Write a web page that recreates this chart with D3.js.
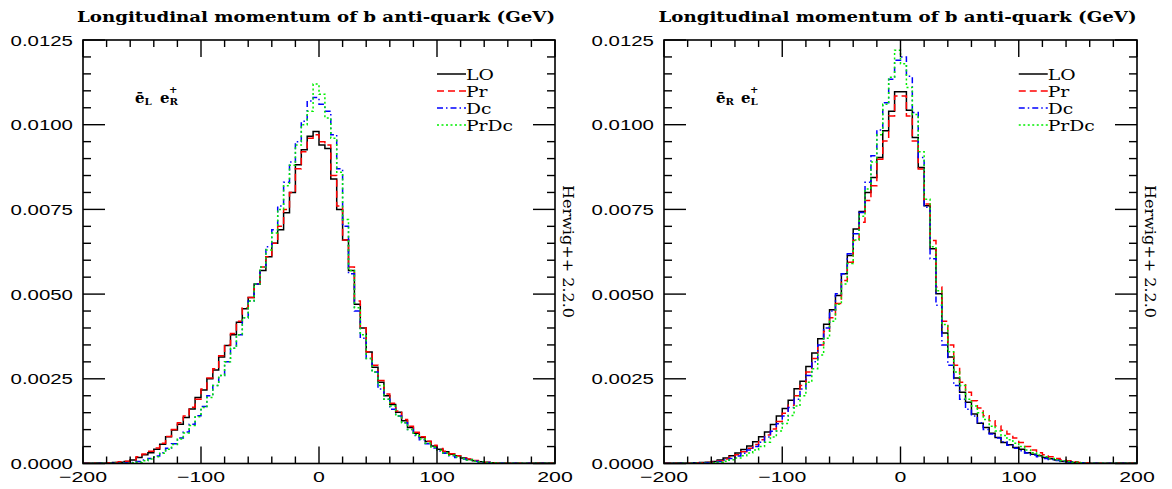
<!DOCTYPE html>
<html>
<head>
<meta charset="utf-8">
<script src="https://cdn.jsdelivr.net/npm/d3@7"></script>
<style>
  body { margin: 0; background: #fff; }
</style>
</head>
<body>
<svg id="chart" width="1172" height="489"></svg>
<script>
// histogram bins: 80 bins of 5 GeV from -200 to 200
var binStart = -200, binWidth = 5, binCount = 80;
var xTicks = [-200, -100, 0, 100, 200];
var xTickLabels = ["\u2212200", "\u2212100", "0", "100", "200"];
var yTicks = [0, 0.0025, 0.005, 0.0075, 0.01, 0.0125];
var yTickLabels = ["0.0000", "0.0025", "0.0050", "0.0075", "0.0100", "0.0125"];
var seriesNames = ["LO", "Pr", "Dc", "PrDc"];
var title = "Longitudinal momentum of b anti-quark (GeV)";
var stamp = "Herwig++ 2.2.0";

// left panel: eL- eR+
var leftLO = [
  0.000005, 0.000005, 0.00001, 0.00001, 0.00002, 0.00003, 0.00004, 0.00006,
  0.0001, 0.00018, 0.00026, 0.00032, 0.00042, 0.00057, 0.00079, 0.00099,
  0.00116, 0.00136, 0.00161, 0.00195, 0.00217, 0.0025, 0.00276, 0.00314,
  0.00348, 0.0038, 0.00417, 0.00457, 0.0049, 0.0053, 0.0057, 0.0061,
  0.0065, 0.0069, 0.0074, 0.0080, 0.00882, 0.00926, 0.00966, 0.0098,
  0.0094, 0.0093, 0.0084, 0.0075, 0.0066, 0.0057, 0.0047, 0.0040,
  0.00329, 0.00284, 0.0024, 0.0020, 0.00174, 0.00151, 0.00126, 0.00106,
  0.00089, 0.00077, 0.00065, 0.00052, 0.00042, 0.00035, 0.00027, 0.00023,
  0.00016, 0.00012, 0.00008, 0.00005, 0.00003, 0.00002, 0.00001, 0.00001,
  0.000005, 0.000005, 0.000005, 0.000005, 0.000005, 0.000005, 0.000005, 0.000005
];
var leftPr = [
  0.000005, 0.000005, 0.00001, 0.00001, 0.00002, 0.00003, 0.00005, 0.00007,
  0.0001, 0.0002, 0.00028, 0.00036, 0.00046, 0.0006, 0.0008, 0.001,
  0.0012, 0.0014, 0.00166, 0.0019, 0.0022, 0.00252, 0.0028, 0.00318,
  0.0035, 0.00384, 0.0042, 0.0046, 0.0049, 0.0053, 0.0058, 0.0061,
  0.0065, 0.0070, 0.0075, 0.0080, 0.0087, 0.0092, 0.0096, 0.0097,
  0.0095, 0.0094, 0.0085, 0.0076, 0.0066, 0.0058, 0.0048, 0.0040,
  0.0033, 0.0029, 0.00245, 0.00205, 0.00178, 0.00155, 0.0013, 0.0011,
  0.00092, 0.00079, 0.00066, 0.00054, 0.00044, 0.00036, 0.00029, 0.00023,
  0.00017, 0.00013, 0.00009, 0.00006, 0.00004, 0.00002, 0.00001, 0.00001,
  0.000005, 0.000005, 0.000005, 0.000005, 0.000005, 0.000005, 0.000005, 0.000005
];
var leftDc = [
  0.000003, 0.000003, 0.000005, 0.000005, 0.00001, 0.00001, 0.00002, 0.00002,
  0.00003, 0.00006, 0.0001, 0.00015, 0.00022, 0.00032, 0.00045, 0.00058,
  0.00075, 0.00093, 0.00116, 0.00141, 0.00168, 0.002, 0.0023, 0.0026,
  0.003, 0.0034, 0.0038, 0.0043, 0.0048, 0.0053, 0.0058, 0.0064,
  0.0069, 0.0076, 0.0083, 0.0089, 0.0095, 0.0101, 0.0107, 0.0108,
  0.0106, 0.0104, 0.0097, 0.0087, 0.0070, 0.0056, 0.0045, 0.0037,
  0.0031, 0.0027, 0.0022, 0.0019, 0.0016, 0.0014, 0.0012, 0.001,
  0.00083, 0.0007, 0.00058, 0.00046, 0.00037, 0.0003, 0.00023, 0.00018,
  0.00013, 0.0001, 0.00007, 0.00004, 0.00003, 0.00002, 0.00001, 0.00001,
  0.000005, 0.000005, 0.000005, 0.000005, 0.000005, 0.000005, 0.000005, 0.000005
];
var leftPrDc = [
  0.000003, 0.000003, 0.000005, 0.000005, 0.000005, 0.00001, 0.00001, 0.00001,
  0.00002, 0.00004, 0.00008, 0.00013, 0.0002, 0.0003, 0.00042, 0.00056,
  0.00072, 0.0009, 0.00112, 0.00138, 0.00165, 0.00195, 0.0023, 0.0026,
  0.003, 0.0034, 0.0038, 0.0043, 0.0048, 0.0053, 0.0058, 0.0063,
  0.0068, 0.0075, 0.0082, 0.0088, 0.0094, 0.0100, 0.0104, 0.0112,
  0.0109, 0.0102, 0.0096, 0.0086, 0.0072, 0.0057, 0.0046, 0.0038,
  0.0031, 0.0027, 0.0023, 0.0019, 0.0017, 0.0014, 0.0012, 0.001,
  0.00085, 0.00072, 0.0006, 0.00048, 0.00039, 0.00031, 0.00024, 0.00019,
  0.00014, 0.0001, 0.00007, 0.00005, 0.00003, 0.00002, 0.00001, 0.00001,
  0.000005, 0.000005, 0.000005, 0.000005, 0.000005, 0.000005, 0.000005, 0.000005
];

// right panel: eR- eL+
var rightLO = [
  0.000005, 0.00001, 0.00001, 0.00001, 0.00001, 0.00002, 0.00003, 0.00004,
  0.00006, 0.0001, 0.00016, 0.00023, 0.00031, 0.00041, 0.00052, 0.00064,
  0.00079, 0.00093, 0.00115, 0.0014, 0.00162, 0.00187, 0.00221, 0.00243,
  0.00286, 0.00326, 0.00368, 0.00411, 0.00454, 0.00496, 0.0056, 0.00614,
  0.00692, 0.00744, 0.008, 0.00844, 0.00903, 0.00982, 0.0104, 0.01097,
  0.01097, 0.01043, 0.00962, 0.00874, 0.00761, 0.00634, 0.00501, 0.00385,
  0.00314, 0.00252, 0.0021, 0.00181, 0.00146, 0.00119, 0.00106, 0.00089,
  0.00077, 0.00062, 0.00055, 0.00047, 0.00042, 0.00032, 0.00027, 0.00023,
  0.00018, 0.00014, 0.0001, 0.00007, 0.00005, 0.00003, 0.00002, 0.00001,
  0.00001, 0.000005, 0.000005, 0.000005, 0.000005, 0.000005, 0.000005, 0.000005
];
var rightPr = [
  0.000005, 0.000005, 0.00001, 0.00001, 0.00001, 0.00002, 0.00002, 0.00003,
  0.00004, 0.00008, 0.00013, 0.00019, 0.00026, 0.00035, 0.00045, 0.00056,
  0.0007, 0.00084, 0.00102, 0.00124, 0.00148, 0.00172, 0.002, 0.0023,
  0.0027, 0.0031, 0.0035, 0.0039, 0.0043, 0.00472, 0.0054, 0.00594,
  0.00658, 0.00712, 0.00776, 0.0082, 0.00898, 0.00952, 0.01026, 0.01085,
  0.01085, 0.01026, 0.00952, 0.00869, 0.00766, 0.00658, 0.00521, 0.0042,
  0.0035, 0.0029, 0.0024, 0.0021, 0.00185, 0.00164, 0.00141, 0.00126,
  0.00111, 0.00098, 0.00087, 0.00075, 0.00062, 0.0005, 0.0004, 0.00032,
  0.00026, 0.0002, 0.00015, 0.00011, 0.00008, 0.00005, 0.00003, 0.00002,
  0.00001, 0.000005, 0.000005, 0.000005, 0.000005, 0.000005, 0.000005, 0.000005
];
var rightDc = [
  0.000003, 0.000005, 0.000005, 0.00001, 0.00001, 0.00001, 0.00002, 0.00002,
  0.00003, 0.00006, 0.0001, 0.00015, 0.00022, 0.0003, 0.0004, 0.0005,
  0.00063, 0.00078, 0.00095, 0.00117, 0.0014, 0.00165, 0.0019, 0.0022,
  0.0026, 0.003, 0.0035, 0.0040, 0.0045, 0.00501, 0.0056, 0.00619,
  0.00678, 0.00741, 0.0083, 0.00908, 0.00984, 0.01065, 0.01134, 0.0119,
  0.0120, 0.01143, 0.01036, 0.00903, 0.00756, 0.00604, 0.00467, 0.0035,
  0.0029, 0.0023, 0.0019, 0.0016, 0.0014, 0.0012, 0.001, 0.00087,
  0.00075, 0.00064, 0.00054, 0.00045, 0.00038, 0.00031, 0.00025, 0.0002,
  0.00015, 0.00012, 0.00009, 0.00006, 0.00004, 0.00003, 0.00002, 0.00001,
  0.000005, 0.000005, 0.000005, 0.000005, 0.000005, 0.000005, 0.000005, 0.000005
];
var rightPrDc = [
  0.000003, 0.000003, 0.000005, 0.000005, 0.00001, 0.00001, 0.00001, 0.00001,
  0.00002, 0.00004, 0.00007, 0.00011, 0.00016, 0.00023, 0.00031, 0.0004,
  0.0005, 0.00063, 0.00078, 0.00096, 0.00118, 0.00142, 0.0017, 0.002,
  0.0024, 0.0028, 0.0032, 0.0037, 0.0042, 0.0047, 0.0053, 0.0059,
  0.0066, 0.0073, 0.0081, 0.0089, 0.0097, 0.0106, 0.0114, 0.0122,
  0.0118, 0.0111, 0.0103, 0.0092, 0.0078, 0.0064, 0.0051, 0.0041,
  0.0033, 0.0027, 0.0023, 0.0019, 0.0017, 0.0015, 0.0013, 0.0011,
  0.00096, 0.00083, 0.0007, 0.0006, 0.0005, 0.0004, 0.00032, 0.00025,
  0.0002, 0.00015, 0.00011, 0.00008, 0.00006, 0.00004, 0.00002, 0.00001,
  0.00001, 0.000005, 0.000005, 0.000005, 0.000005, 0.000005, 0.000005, 0.000005
];

var styles = [
  {color: "#000000", dash: null},
  {color: "#ff0000", dash: "7,4"},
  {color: "#0000ff", dash: "6,3,1.5,3"},
  {color: "#00ee00", dash: "2,2.5"}
];

var panels = [
  {x0: 83, x1: 555, series: [leftLO, leftPr, leftDc, leftPrDc], beam: ["L", "R"], stampX: 563},
  {x0: 664, x1: 1137, series: [rightLO, rightPr, rightDc, rightPrDc], beam: ["R", "L"], stampX: 1145}
];
var yTop = 40, yBottom = 463.5;

var svg = d3.select("#chart");
svg.append("rect").attr("width", 1172).attr("height", 489).attr("fill", "#fff");

var sans = "'Liberation Sans', Arial, sans-serif";
var serif = "'DejaVu Serif', serif";

// stretch a text horizontally by factor k (the original fonts are wide)
function stretch(t, k) {
  var len = t.node().getComputedTextLength();
  t.attr("textLength", len * k).attr("lengthAdjust", "spacingAndGlyphs");
  return t;
}

panels.forEach(function(p, pi) {
  var x = d3.scaleLinear().domain([-200, 200]).range([p.x0, p.x1]);
  var y = d3.scaleLinear().domain([0, 0.0125]).range([yBottom, yTop]);
  var g = svg.append("g");

  g.append("clipPath").attr("id", "clip" + pi)
    .append("rect")
    .attr("x", p.x0).attr("y", yTop)
    .attr("width", p.x1 - p.x0).attr("height", yBottom - yTop);

  // histograms
  var line = d3.line()
    .x(function(d) { return x(d[0]); })
    .y(function(d) { return y(d[1]); })
    .curve(d3.curveStepAfter);

  p.series.forEach(function(vals, si) {
    var pts = vals.map(function(v, i) { return [binStart + i * binWidth, v]; });
    pts.push([binStart + binCount * binWidth, vals[vals.length - 1]]);
    g.append("path")
      .attr("clip-path", "url(#clip" + pi + ")")
      .attr("d", line(pts))
      .attr("fill", "none")
      .attr("stroke", styles[si].color)
      .attr("stroke-width", 1.5)
      .attr("stroke-dasharray", styles[si].dash);
  });

  // frame
  g.append("rect")
    .attr("x", p.x0).attr("y", yTop)
    .attr("width", p.x1 - p.x0).attr("height", yBottom - yTop)
    .attr("fill", "none").attr("stroke", "#000").attr("stroke-width", 1.6);

  // x ticks, top and bottom, inside
  var xMinor = d3.range(-200, 201, 20);
  xMinor.forEach(function(v) {
    var major = v % 100 === 0;
    var len = major ? 17 : 7;
    g.append("line").attr("x1", x(v)).attr("x2", x(v))
      .attr("y1", yBottom).attr("y2", yBottom - len)
      .attr("stroke", "#000").attr("stroke-width", 1.4);
    g.append("line").attr("x1", x(v)).attr("x2", x(v))
      .attr("y1", yTop).attr("y2", yTop + len)
      .attr("stroke", "#000").attr("stroke-width", 1.4);
  });
  xTicks.forEach(function(v, i) {
    var t = g.append("text")
      .attr("x", x(v)).attr("y", 482)
      .attr("text-anchor", "middle")
      .attr("font-family", sans).attr("font-size", 15)
      .text(xTickLabels[i]);
    stretch(t, 1.42);
  });

  // y ticks, left and right, inside
  var yMinor = d3.range(0, 26).map(function(i) { return i * 0.0005; });
  yMinor.forEach(function(v, i) {
    var len = i % 5 === 0 ? 22 : 8;
    g.append("line").attr("x1", p.x0).attr("x2", p.x0 + len)
      .attr("y1", y(v)).attr("y2", y(v))
      .attr("stroke", "#000").attr("stroke-width", 1.4);
    g.append("line").attr("x1", p.x1).attr("x2", p.x1 - len)
      .attr("y1", y(v)).attr("y2", y(v))
      .attr("stroke", "#000").attr("stroke-width", 1.4);
  });
  yTicks.forEach(function(v, i) {
    var t = g.append("text")
      .attr("y", y(v) + 5.5)
      .attr("font-family", sans).attr("font-size", 15)
      .text(yTickLabels[i]);
    stretch(t, 1.36);
    var w = +t.attr("textLength");
    t.attr("x", p.x0 - 10 - w);
  });

  // title
  var tt = g.append("text")
    .attr("x", (p.x0 + p.x1) / 2 - 3).attr("y", 22)
    .attr("text-anchor", "middle")
    .attr("font-family", serif).attr("font-weight", "bold").attr("font-size", 14.5)
    .text(title);
  tt.attr("textLength", 478).attr("lengthAdjust", "spacingAndGlyphs");

  // legend
  seriesNames.forEach(function(name, si) {
    var ly = 74 + si * 17;
    var lx = x(100);
    g.append("line").attr("x1", lx).attr("x2", lx + 29)
      .attr("y1", ly).attr("y2", ly)
      .attr("stroke", styles[si].color).attr("stroke-width", 1.5)
      .attr("stroke-dasharray", styles[si].dash);
    var t = g.append("text")
      .attr("x", lx + 29).attr("y", ly + 5.5)
      .attr("font-family", serif).attr("font-size", 15)
      .text(name);
    stretch(t, 1.25);
  });

  // beam polarisation label
  var bx = p.x0 + 52, by = 103;
  g.append("text").attr("x", bx).attr("y", by)
    .attr("font-family", serif).attr("font-weight", "bold").attr("font-size", 15)
    .text("\u0113");
  stretch(g.append("text").attr("x", bx + 9.5).attr("y", by + 1.5)
    .attr("font-family", serif).attr("font-weight", "bold").attr("font-size", 8.5)
    .text(p.beam[0]), 1.2);
  g.append("text").attr("x", bx + 25).attr("y", by)
    .attr("font-family", serif).attr("font-weight", "bold").attr("font-size", 15)
    .text("e");
  g.append("text").attr("x", bx + 34).attr("y", by - 10)
    .attr("font-family", serif).attr("font-weight", "bold").attr("font-size", 10)
    .text("+");
  stretch(g.append("text").attr("x", bx + 34.5).attr("y", by + 2)
    .attr("font-family", serif).attr("font-weight", "bold").attr("font-size", 8.5)
    .text(p.beam[1]), 1.2);

  // program stamp, rotated
  var st = g.append("text")
    .attr("transform", "translate(" + p.stampX + ",185) rotate(90)")
    .attr("font-family", serif).attr("font-size", 15)
    .text(stamp);
  st.attr("textLength", 133).attr("lengthAdjust", "spacingAndGlyphs");
});
</script>
</body>
</html>
